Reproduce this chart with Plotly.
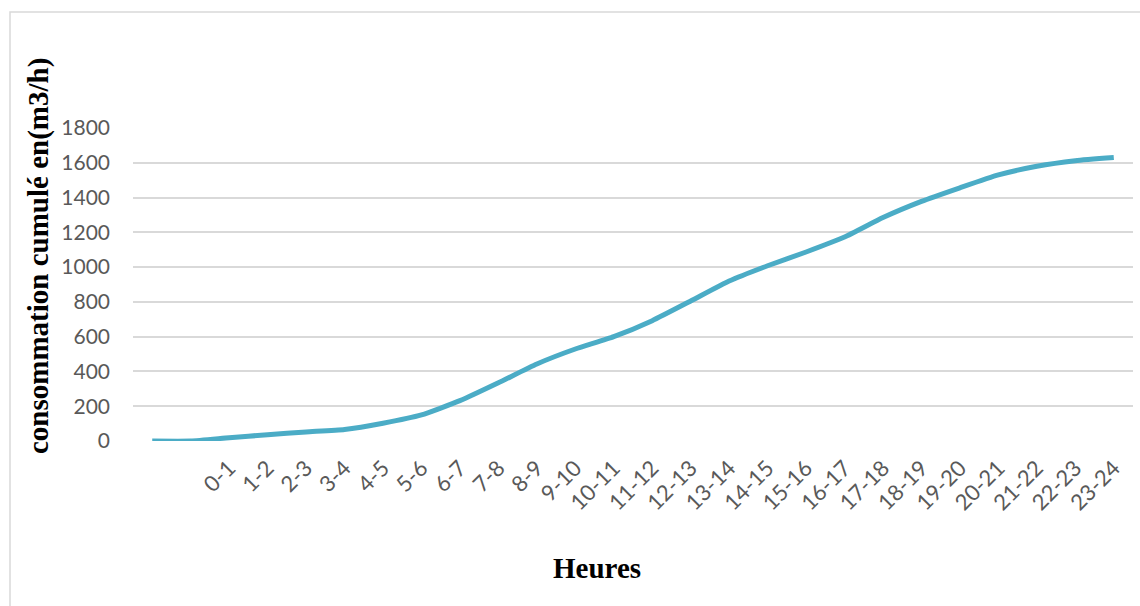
import plotly.graph_objects as go

# Hourly slots (two leading unlabeled slots at zero), cumulative consumption values
hour_labels = ["", "", "0-1", "1-2", "2-3", "3-4", "4-5", "5-6", "6-7", "7-8", "8-9",
               "9-10", "10-11", "11-12", "12-13", "13-14", "14-15", "15-16",
               "16-17", "17-18", "18-19", "19-20", "20-21", "21-22", "22-23", "23-24"]
cumul_m3h = [0, 0, 19, 36, 52, 66, 102, 150, 232, 335, 443, 529, 600, 692, 805,
             920, 1008, 1087, 1173, 1285, 1378, 1456, 1530, 1580, 1612, 1630]
y_ticks = [0, 200, 400, 600, 800, 1000, 1200, 1400, 1600, 1800]

positions = list(range(len(hour_labels)))

fig = go.Figure()
fig.add_trace(go.Scatter(
    x=positions, y=cumul_m3h, mode="lines",
    line=dict(color="#4BACC6", width=5, shape="spline", smoothing=0.5),
    hoverinfo="skip", showlegend=False,
))

W, H = 1140, 606
L, R, T, B = 133, 7, 128, 165
pw, ph = W - L - R, H - T - B

fig.update_layout(
    width=W, height=H,
    margin=dict(l=L, r=R, t=T, b=B, autoexpand=False),
    paper_bgcolor="white", plot_bgcolor="white",
    font=dict(family="Lato, 'Open Sans', sans-serif", color="#595959", size=21),
    xaxis=dict(
        range=[-0.5, len(hour_labels) - 0.5],
        tickmode="array", tickvals=positions, ticktext=hour_labels,
        tickangle=-45, showgrid=False, zeroline=False, showline=False,
        ticks="", ticklabelstandoff=9,
        tickfont=dict(size=22, color="#595959"),
    ),
    yaxis=dict(
        range=[0, 1800], tickmode="array", tickvals=y_ticks,
        showgrid=True, gridcolor="#D9D9D9", gridwidth=1.5,
        zeroline=False, showline=False, ticks="", ticklabelstandoff=22,
        tickfont=dict(size=21, color="#595959"),
    ),
    shapes=[
        # light outer frame of the chart area
        dict(type="rect", xref="paper", yref="paper",
             x0=(10 - L) / pw, x1=(W + 20 - L) / pw,
             y0=-(H + 20 - T - ph) / ph, y1=(T + ph - 12) / ph,
             line=dict(color="#D9D9D9", width=1.5), fillcolor="rgba(0,0,0,0)",
             layer="below"),
    ],
    annotations=[
        dict(text="<b>Heures</b>", xref="paper", yref="paper",
             x=(597 - L) / pw, y=-(568 - T - ph) / ph,
             showarrow=False, xanchor="center", yanchor="middle",
             font=dict(family="'Liberation Serif', 'Times New Roman', serif",
                       size=29, color="black")),
        dict(text="<b>consommation cumulé en(m3/h)</b>", xref="paper", yref="paper",
             x=(38 - L) / pw, y=(T + ph - 256) / ph, textangle=-90,
             showarrow=False, xanchor="center", yanchor="middle",
             font=dict(family="'Liberation Serif', 'Times New Roman', serif",
                       size=29, color="black")),
    ],
)

fig.write_html("out.html")
